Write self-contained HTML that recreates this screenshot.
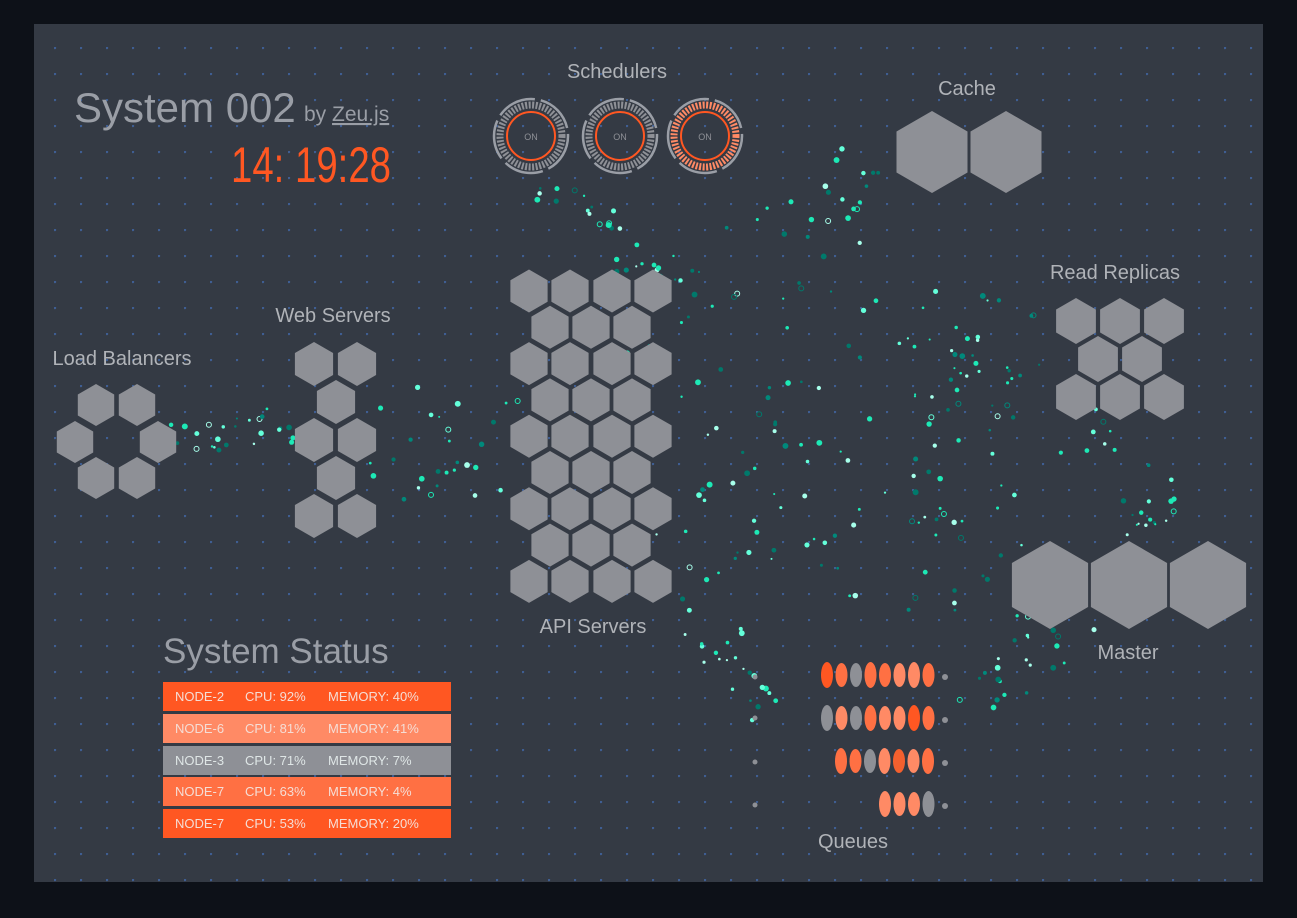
<!DOCTYPE html>
<html><head><meta charset="utf-8"><style>
html,body{margin:0;padding:0;background:#0d1118;width:1297px;height:918px;overflow:hidden}
svg{display:block}
text{font-family:"Liberation Sans","DejaVu Sans",sans-serif}
</style></head><body>
<svg id="s" width="1297" height="918" xmlns="http://www.w3.org/2000/svg">
<defs>
<pattern id="dots" x="2" y="21" width="26" height="26" patternUnits="userSpaceOnUse">
<circle cx="1" cy="1" r="1.2" fill="#3f5f95"/>
</pattern>
</defs>
<rect x="0" y="0" width="1297" height="918" fill="#0d1118"/>
<rect x="34" y="24" width="1229" height="858" fill="#343a44"/>
<rect x="34" y="24" width="1229" height="858" fill="url(#dots)"/>
<g id="parts"></g>
<g id="hexes" fill="#8e9096"></g>
<g id="sched"></g>
<g id="queues"></g>

<text x="74" y="122" font-size="42" fill="#9a9ea6">System 002</text>
<text x="304" y="121" font-size="21" fill="#9a9ea6">by <tspan text-decoration="underline">Zeu.js</tspan></text>
<text x="231" y="182" font-size="50" fill="#ff5722" font-family="Liberation Mono,monospace" textLength="160" lengthAdjust="spacingAndGlyphs">14: 19:28</text>

<g font-size="20" fill="#b0b3b8" text-anchor="middle">
<text x="617" y="78">Schedulers</text>
<text x="967" y="95">Cache</text>
<text x="1115" y="279">Read Replicas</text>
<text x="333" y="322">Web Servers</text>
<text x="122" y="365">Load Balancers</text>
<text x="593" y="633">API Servers</text>
<text x="1128" y="659">Master</text>
<text x="853" y="848">Queues</text>
</g>

<text x="163" y="663" font-size="35" fill="#9a9ea6">System Status</text>
<g font-size="13" fill="#f5ddd5">
<rect x="163" y="682" width="288" height="29" fill="#ff5722"/>
<text x="175" y="701">NODE-2</text><text x="245" y="701">CPU: 92%</text><text x="328" y="701">MEMORY: 40%</text>
<rect x="163" y="714" width="288" height="29" fill="#ff8a65"/>
<text x="175" y="733">NODE-6</text><text x="245" y="733">CPU: 81%</text><text x="328" y="733">MEMORY: 41%</text>
<rect x="163" y="746" width="288" height="29" fill="#8e9096"/>
<text x="175" y="765" fill="#dfe6e6">NODE-3</text><text x="245" y="765" fill="#dfe6e6">CPU: 71%</text><text x="328" y="765" fill="#dfe6e6">MEMORY: 7%</text>
<rect x="163" y="777" width="288" height="29" fill="#ff7043"/>
<text x="175" y="796">NODE-7</text><text x="245" y="796">CPU: 63%</text><text x="328" y="796">MEMORY: 4%</text>
<rect x="163" y="809" width="288" height="29" fill="#ff5722"/>
<text x="175" y="828">NODE-7</text><text x="245" y="828">CPU: 53%</text><text x="328" y="828">MEMORY: 20%</text>
</g>
</svg>
<script>
var NS="http://www.w3.org/2000/svg";
function el(t,a,p){var e=document.createElementNS(NS,t);for(var k in a)e.setAttribute(k,a[k]);p.appendChild(e);return e;}
var H=document.getElementById('hexes');
function hex(cx,cy,r){var p=[];for(var i=0;i<6;i++){var a=Math.PI/180*(60*i-90);p.push((cx+r*Math.cos(a)).toFixed(1)+','+(cy+r*Math.sin(a)).toFixed(1));}el('polygon',{points:p.join(' ')},H);}
// load balancers
[[96,405],[137,405],[75,442],[158,442],[96,478],[137,478]].forEach(function(c){hex(c[0],c[1],21);});
// web
[[314,364],[357,364],[336,402],[314,440],[357,440],[336,478],[314,516],[357,516]].forEach(function(c){hex(c[0],c[1],22);});
// api
for(var r=0;r<9;r++){var y=291+r*36.3;var xs=r%2==0?[529,570,612,653]:[550,591,632];xs.forEach(function(x){hex(x,y,21.5);});}
// replicas
[[1076,321],[1120,321],[1164,321],[1098,359],[1142,359],[1076,397],[1120,397],[1164,397]].forEach(function(c){hex(c[0],c[1],23);});
// cache
hex(932,152,41);hex(1006,152,41);
// master
hex(1050,585,44);hex(1129,585,44);hex(1208,585,44);
// schedulers
var S=document.getElementById('sched');
[[531,136,0],[620,136,0],[705,136,1]].forEach(function(c){
 var cx=c[0],cy=c[1];
 el('circle',{cx:cx,cy:cy,r:37,fill:'none',stroke:'#9a9ea6','stroke-width':2.5,'stroke-dasharray':'40 6'},S);
 el('circle',{cx:cx,cy:cy,r:31,fill:'none',stroke:c[2]?'#ff8a65':'#8e9096','stroke-width':7,'stroke-dasharray':'2 1.5'},S);
 el('circle',{cx:cx,cy:cy,r:24,fill:'none',stroke:'#ff5722','stroke-width':2},S);
 var t=el('text',{x:cx,y:cy+4,'font-size':9,fill:'#8e9096','text-anchor':'middle'},S);t.textContent='ON';
});
// queues
var Q=document.getElementById('queues');
var O1='#ff5722',O2='#ff7043',O3='#ff8a65',G='#8e9096';
var rows=[[675,827,[O1,O2,G,O2,O2,O3,O3,O2]],[718,827,[G,O3,G,O2,O3,O3,O1,O2]],[761,841,[O2,O2,G,O3,'#f4602e',O3,O2]],[804,885,[O3,O3,O3,G]]];
rows.forEach(function(rw){rw[2].forEach(function(col,i){var h=(i%3==0)?13:12;el('ellipse',{cx:rw[1]+i*14.5,cy:rw[0],rx:6,ry:h,fill:col},Q);});
 el('circle',{cx:945,cy:rw[0]+2,r:3,fill:G},Q);});
[[755,677],[755,718],[755,762],[755,805]].forEach(function(c){el('circle',{cx:c[0],cy:c[1],r:2.5,fill:G},Q);});
// particles
var P=document.getElementById('parts');
var seed=7;function rnd(){seed=(seed*16807)%2147483647;return seed/2147483647;}
var cols=['#1de9b6','#64ffda','#00897b','#00796b','#a7ffeb','#1de9b6'];
function flow(x1,y1,x2,y2,n,spread){for(var i=0;i<n;i++){var t=rnd();var x=x1+(x2-x1)*t+(rnd()-0.5)*spread;var y=y1+(y2-y1)*t+(rnd()-0.5)*spread;var c=cols[Math.floor(rnd()*cols.length)];var rr=1+rnd()*2;
 if(rnd()<0.08)el('circle',{cx:x,cy:y,r:2.5,fill:'none',stroke:c,'stroke-width':1},P);else el('circle',{cx:x,cy:y,r:rr,fill:c},P);}}
flow(180,442,290,420,25,40);
flow(380,440,500,440,30,120);
flow(540,170,660,270,25,50);
flow(680,300,880,180,30,80);
flow(680,330,1030,360,45,120);
flow(680,430,1000,470,45,120);
flow(680,520,1000,580,45,100);
flow(690,580,760,720,25,50);
flow(1080,420,1160,520,25,60);
flow(960,700,1070,630,25,60);
flow(940,340,1020,400,15,60);
</script>
</body></html>
